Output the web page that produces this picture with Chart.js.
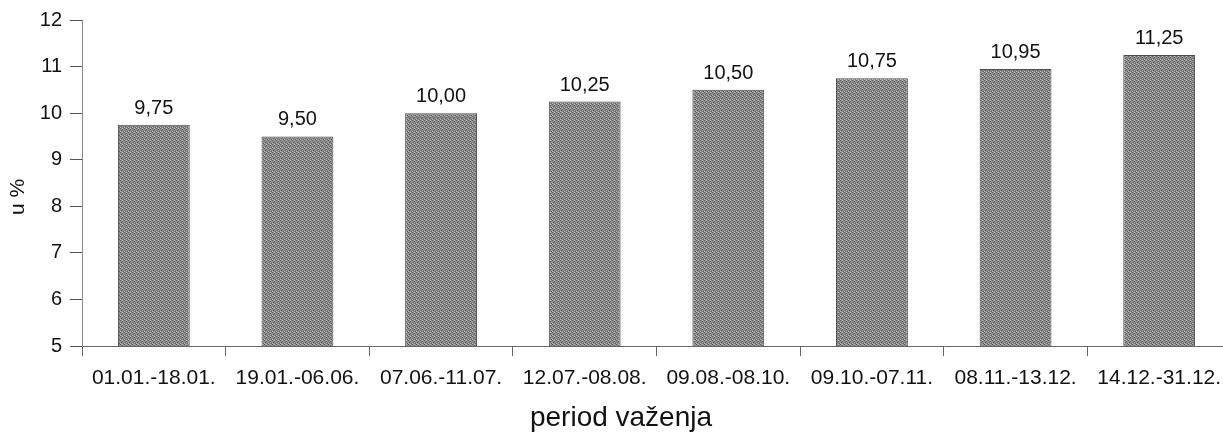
<!DOCTYPE html>
<html>
<head>
<meta charset="utf-8">
<script src="https://cdn.jsdelivr.net/npm/chart.js@4"></script>
<style>
  html, body { margin: 0; padding: 0; background: #fff; overflow: hidden; }
</style>
</head>
<body>
<canvas id="chart_canvas" width="1240" height="436"></canvas>
<script>
// 데이터
var periods = ['01.01.-18.01.', '19.01.-06.06.', '07.06.-11.07.', '12.07.-08.08.',
               '09.08.-08.10.', '09.10.-07.11.', '08.11.-13.12.', '14.12.-31.12.'];
var rates = [9.75, 9.50, 10.00, 10.25, 10.50, 10.75, 10.95, 11.25];
var yTicks = [5, 6, 7, 8, 9, 10, 11, 12];
var xTitle = 'period važenja';
var yTitle = 'u %';

var fontFamily = '"Liberation Sans", Arial, sans-serif';

// 막대 무늬 (디더링 느낌)
function makePattern() {
    var c = document.createElement('canvas');
    c.width = 4; c.height = 4;
    var g = c.getContext('2d');
    g.fillStyle = '#8e8e8e';
    g.fillRect(0, 0, 4, 4);
    g.fillStyle = '#5e5e5e';
    g.fillRect(0, 0, 1, 1); g.fillRect(2, 1, 1, 1);
    g.fillRect(1, 2, 1, 1); g.fillRect(3, 3, 1, 1);
    g.fillStyle = '#b4b4b4';
    g.fillRect(2, 0, 1, 1); g.fillRect(0, 3, 1, 1);
    return g.createPattern(c, 'repeat');
}

// 막대 위 값 표시 + 축 제목
var valueLabels = {
    id: 'valueLabels',
    afterDatasetsDraw: function(chart) {
        var ctx = chart.ctx;
        var meta = chart.getDatasetMeta(0);
        ctx.save();
        ctx.font = '20px ' + fontFamily;
        ctx.fillStyle = '#111';
        ctx.textAlign = 'center';
        ctx.textBaseline = 'alphabetic';
        meta.data.forEach(function(bar, i) {
            var txt = rates[i].toFixed(2).replace('.', ',');
            ctx.fillText(txt, bar.x, bar.y - 11);
        });

        // x 축 제목
        ctx.font = '28px ' + fontFamily;
        ctx.textBaseline = 'middle';
        ctx.fillText(xTitle, 621, 418);

        // y 축 제목
        ctx.translate(18, 197);
        ctx.rotate(-Math.PI / 2);
        ctx.font = '21px ' + fontFamily;
        ctx.fillText(yTitle, 0, 0);
        ctx.restore();
    }
};

var ctx = document.getElementById('chart_canvas');
var chart = new Chart(ctx, {
    type: 'bar',
    data: {
        labels: periods,
        datasets: [{
            data: rates,
            backgroundColor: makePattern(),
            borderColor: '#4a4a4a',
            borderWidth: 1,
            borderSkipped: 'bottom',
            barPercentage: 0.5,
            categoryPercentage: 1.0
        }]
    },
    options: {
        responsive: false,
        animation: false,
        layout: {
            padding: { top: 20, right: 9, left: 0, bottom: 0 }
        },
        scales: {
            x: {
                offset: true,
                afterFit: function(scale) { scale.height = 90; },
                grid: {
                    offset: true,
                    drawOnChartArea: false,
                    drawTicks: true,
                    tickLength: 10,
                    color: '#666'
                },
                border: { color: '#666', width: 1 },
                ticks: {
                    color: '#111',
                    padding: 10,
                    maxRotation: 0,
                    autoSkip: false,
                    font: { size: 21, family: fontFamily }
                }
            },
            y: {
                min: 5,
                max: 12,
                afterFit: function(scale) { scale.width = 82; },
                afterBuildTicks: function(scale) {
                    scale.ticks = yTicks.map(function(v) { return { value: v }; });
                },
                grid: {
                    drawOnChartArea: false,
                    drawTicks: true,
                    tickLength: 12,
                    color: '#555'
                },
                border: { color: '#888', width: 1, dash: [2, 1] },
                ticks: {
                    color: '#111',
                    padding: 8,
                    font: { size: 20, family: fontFamily }
                }
            }
        },
        plugins: {
            legend: { display: false },
            tooltip: { enabled: false }
        }
    },
    plugins: [valueLabels]
});
</script>
</body>
</html>
